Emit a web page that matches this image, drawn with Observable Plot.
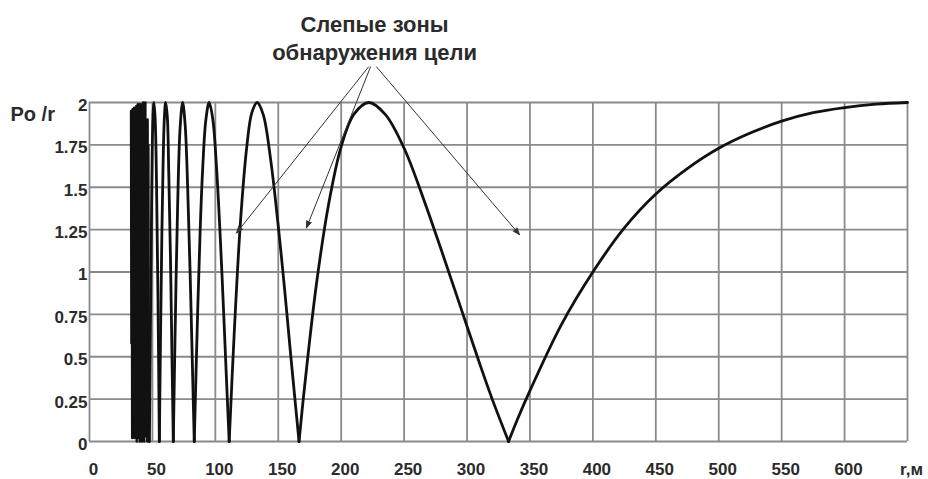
<!DOCTYPE html>
<html>
<head>
<meta charset="utf-8">
<script src="https://cdn.jsdelivr.net/npm/d3@7"></script>
<script src="https://cdn.jsdelivr.net/npm/@observablehq/plot@0.6"></script>
<style>
  html, body { margin: 0; padding: 0; background: #fff; }
</style>
</head>
<body>
<div id="chart"></div>
<script>
// ---- data ----
const xTicks = [0, 50, 100, 150, 200, 250, 300, 350, 400, 450, 500, 550, 600, 650];
const xTickLabels = ["0", "50", "100", "150", "200", "250", "300", "350", "400", "450", "500", "550", "600", "r,м"];
const yTicks = [0, 0.25, 0.5, 0.75, 1, 1.25, 1.5, 1.75, 2];
const yTickLabels = ["0", "0.25", "0.5", "0.75", "1", "1.25", "1.5", "1.75", "2"];
const yAxisTitle = "Po /r";
const annotationLines = ["Слепые зоны", "обнаружения цели"];

// near range: densely oscillating part (drawn as a solid zig-zag)
const denseR = [33.0,33.3,33.6,33.9,34.2,34.5,34.8,35.1,35.4,35.7,36.0,36.3,36.6,36.9,37.2,37.5,37.8,38.1,38.4,38.7,39.0,39.3,39.6,39.9,40.2,40.5,40.8,41.1,41.4,41.7,42.0,42.3,42.6,42.9,43.2,43.5,43.8,44.1,44.4,44.7,45.0,45.3,45.6,45.9,46.2,46.5,46.8,47.1,47.6];
const denseP = [1.95,0.58,1.94,0.02,1.96,0.3,1.95,0.05,1.97,0.02,1.96,0.31,1.97,0.04,1.98,0.0,1.97,0.05,1.99,0.02,1.98,0.3,1.99,0.0,1.97,0.05,1.99,0.03,1.98,0.0,1.96,0.1,2.0,0.04,1.98,0.0,1.95,0.2,2.0,0.05,1.7,0.03,1.66,0.0,1.9,0.02,1.75,0.05,0];

// lobes between blind zones (zeros)
const curveR = [47.6,48.5,49.5,50.3,51.2,52.2,53.3,54.4,55.5,
  56.5,57.5,58.5,59.5,60.5,61.8,63.0,64.3,65.5,66.6,
  68,70,72,74,76,78,80,82,83.25,
  86,88,90,92.5,95.1,98,101,104,107,109,111,
  115,120,125,129,133.2,138,144,150,155,160,163.5,166.5,
  170,180,190,200,210,222,235,250,265,280,295,310,320,333,
  340,350,375,400,425,450,475,500,525,550,575,600,625,650];
const curveP = [0,0.75,1.5,1.88,2.0,1.9,1.5,0.85,0,
  0.65,1.22,1.65,1.91,2.0,1.92,1.58,1.1,0.52,0,
  0.63,1.38,1.85,2.0,1.87,1.5,0.98,0.38,0,
  0.78,1.26,1.62,1.9,2.0,1.9,1.61,1.19,0.69,0.34,0,
  0.64,1.3,1.74,1.94,2.0,1.93,1.66,1.27,0.9,0.5,0.23,0,
  0.26,0.91,1.40,1.74,1.93,2.0,1.93,1.73,1.44,1.12,0.79,0.46,0.25,0,
  0.13,0.30,0.69,1.00,1.26,1.46,1.61,1.73,1.82,1.89,1.94,1.97,1.99,2.0];

// annotation anchor points (data units)
const annotR = [226.5, 226.5];
const annotP = [2.46, 2.29];
const arrowFromR = [221.7, 223.3, 228.1];
const arrowFromP = [2.21, 2.21, 2.21];
const arrowToR = [116.8, 172.4, 341.7];
const arrowToP = [1.23, 1.26, 1.22];

// ---- build tables ----
const denseRows = denseR.map((r, i) => ({r, p: denseP[i]}));
const lobeRows = [];
let seg = 0;
curveR.forEach((r, i) => {
  const p = curveP[i];
  lobeRows.push({r, p, seg});
  if (p === 0 && i > 0 && i < curveR.length - 1) {
    seg += 1;
    lobeRows.push({r, p, seg});
  }
});
const arrowRows = arrowFromR.map((r, i) => ({x1: r, y1: arrowFromP[i], x2: arrowToR[i], y2: arrowToP[i]}));
const annotRows = annotationLines.map((t, i) => ({t, r: annotR[i], p: annotP[i]}));

const gridColor = "#8a8a8a";
const textColor = "#2b2b2b";

const chart = Plot.plot({
  width: 928,
  height: 479,
  marginLeft: 89,
  marginRight: 21,
  marginTop: 102,
  marginBottom: 38,
  x: {domain: [0, 650]},
  y: {domain: [0, 2]},
  style: {fontFamily: "'Liberation Sans', Arial, sans-serif", background: "#fff", overflow: "visible"},
  marks: [
    Plot.ruleX(xTicks, {stroke: gridColor, strokeWidth: 1.8}),
    Plot.ruleY(yTicks, {stroke: gridColor, strokeWidth: 1.8}),
    Plot.axisX({ticks: xTicks, tickFormat: d => xTickLabels[xTicks.indexOf(d)], tickSize: 0, tickPadding: 21,
      fontSize: 17, fontWeight: "bold", fill: textColor, dx: 4, label: null}),
    Plot.axisY({ticks: yTicks, tickFormat: d => yTickLabels[yTicks.indexOf(d)], tickSize: 0, tickPadding: 2,
      fontSize: 17, fontWeight: "bold", fill: textColor, dy: 3, label: null}),
    Plot.text([yAxisTitle], {frameAnchor: "top-left", dx: -79, dy: 4, textAnchor: "start",
      fontSize: 20, fontWeight: "bold", fill: textColor}),
    Plot.line(denseRows, {x: "r", y: "p", stroke: "#111", strokeWidth: 2.4, strokeLinejoin: "round"}),
    Plot.line(lobeRows, {x: "r", y: "p", z: "seg", curve: "catmull-rom", stroke: "#111", strokeWidth: 2.8}),
    Plot.arrow(arrowRows, {x1: "x1", y1: "y1", x2: "x2", y2: "y2", stroke: "#333", fill: "#333",
      strokeWidth: 1, headLength: 11, headAngle: 40}),
    Plot.text(annotRows, {x: "r", y: "p", text: "t", fontSize: 22, fontWeight: "bold", fill: textColor})
  ]
});
document.getElementById("chart").appendChild(chart);
</script>
</body>
</html>
